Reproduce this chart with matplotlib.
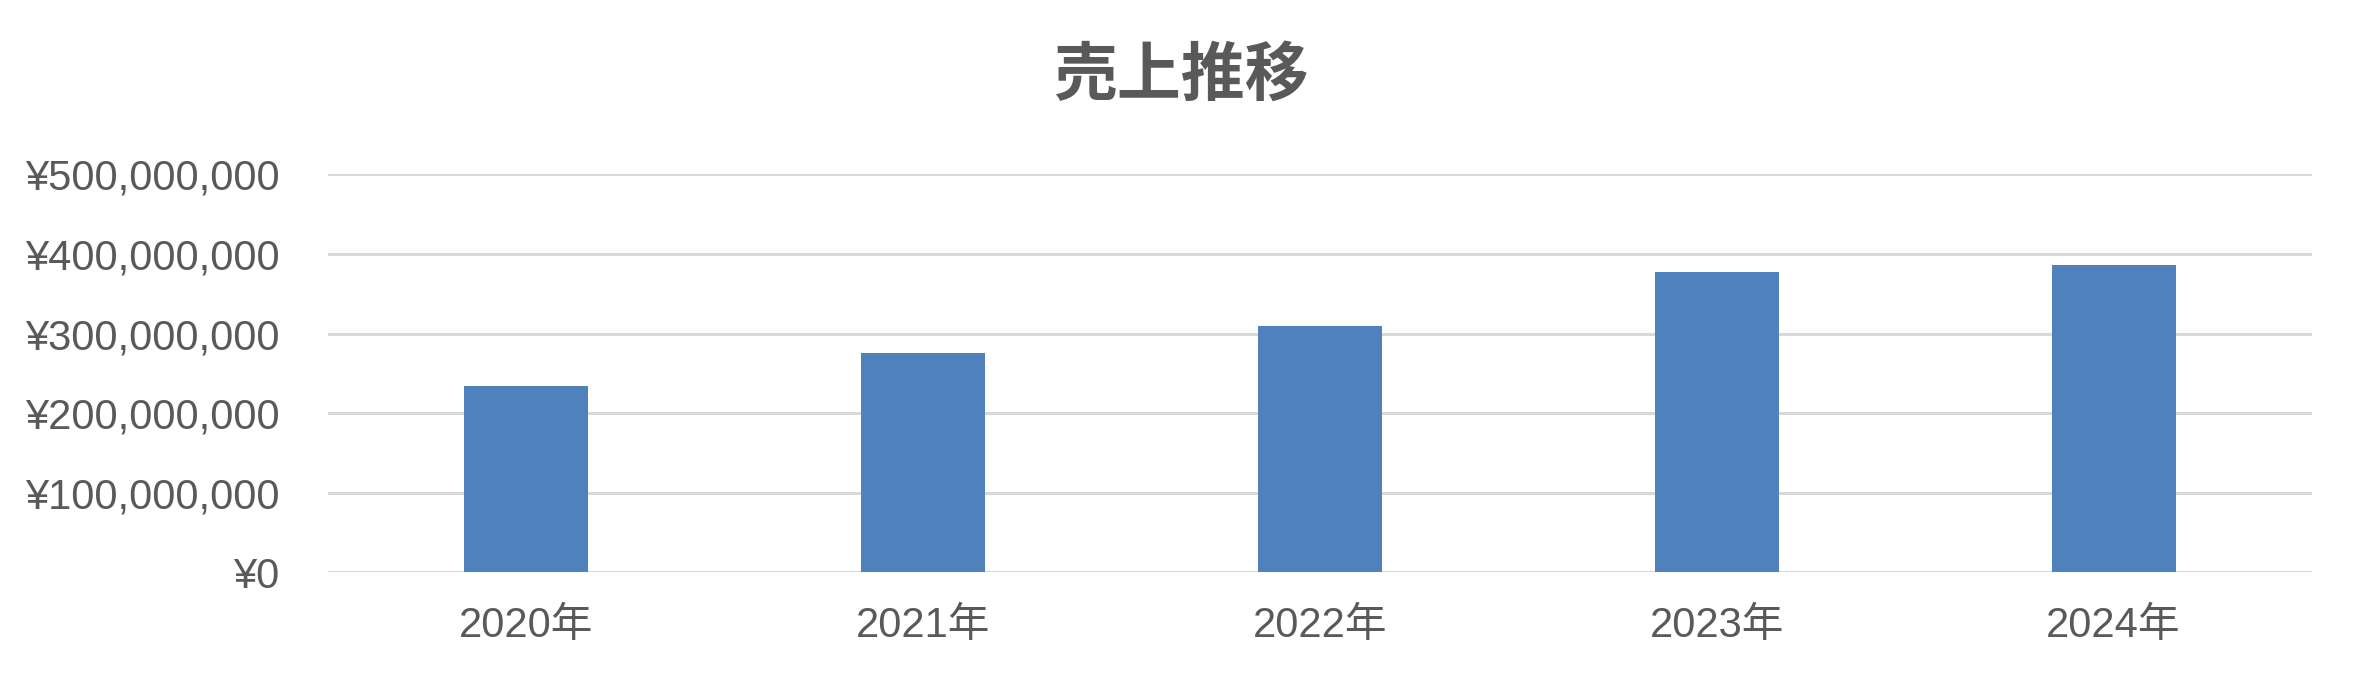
import numpy as np
import matplotlib.pyplot as plt
from matplotlib.ticker import FuncFormatter

# データ
years = ['2020年', '2021年', '2022年', '2023年', '2024年']
sales = [233_500_000, 275_000_000, 310_000_000, 377_500_000, 386_500_000]
y_ticks = [0, 100_000_000, 200_000_000, 300_000_000, 400_000_000, 500_000_000]

TEXT_COLOR = '#595959'
BAR_COLOR = '#4F81BD'
GRID_COLOR = '#D9D9D9'

plt.rcParams['font.family'] = ['Liberation Sans', 'Noto Sans CJK JP']

fig = plt.figure(figsize=(23.62, 6.81), dpi=100)
ax = fig.add_axes([0.1389, 0.1596, 0.9788 - 0.1389, 0.744 - 0.1596])

x = np.arange(len(years))
ax.bar(x, sales, width=0.3125, color=BAR_COLOR, zorder=3)

ax.set_xlim(-0.5, len(years) - 0.5)
ax.set_ylim(0, 500_000_000)
ax.set_yticks(y_ticks)
ax.yaxis.set_major_formatter(FuncFormatter(lambda v, p: f'¥{int(v):,}'))
ax.set_xticks(x)
ax.set_xticklabels(years)

ax.grid(axis='y', color=GRID_COLOR, linewidth=2.2, zorder=0)
ax.set_axisbelow(True)
for s in ax.spines.values():
    s.set_visible(False)

ax.tick_params(axis='y', length=0, pad=35, labelsize=30, labelcolor=TEXT_COLOR)
ax.tick_params(axis='x', length=0, pad=24, labelsize=30, labelcolor=TEXT_COLOR)

fig.text(0.5, 1 - 76 / 681, '売上推移', ha='center', va='center',
         fontsize=46, fontweight='bold', color=TEXT_COLOR,
         family=['Noto Sans CJK JP', 'DejaVu Sans'])

fig.savefig('out.png', dpi=100)
